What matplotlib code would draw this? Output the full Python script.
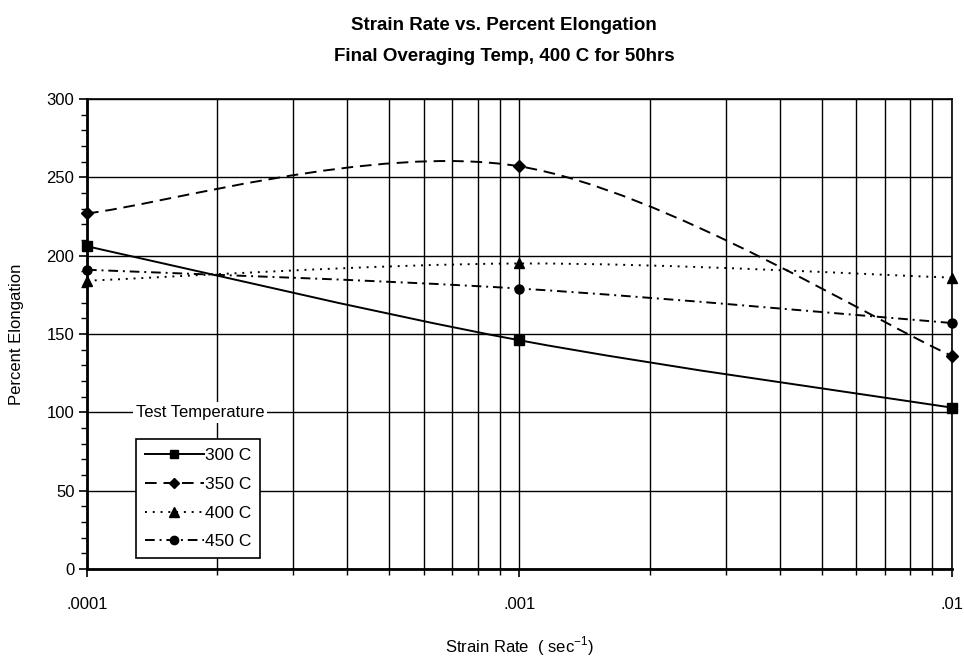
import numpy as np
import matplotlib
matplotlib.use('Agg')
import matplotlib.pyplot as plt
from matplotlib.path import Path
from matplotlib.patches import PathPatch
from matplotlib.lines import Line2D
from matplotlib.ticker import FixedLocator, FixedFormatter, LogLocator, NullFormatter, MultipleLocator

plt.rcParams['font.family'] = ['Liberation Sans', 'DejaVu Sans']

strain_rate = [0.0001, 0.001, 0.01]
xtick_labels = ['.0001', '.001', '.01']
labels = ['300 C', '350 C', '400 C', '450 C']
elong_300 = [206, 146, 103]
elong_350 = [227, 257, 136]
elong_400 = [184, 195, 186]
elong_450 = [191, 179, 157]

series = [elong_300, elong_350, elong_400, elong_450]
markers = ['s', 'D', '^', 'o']
styles = ['-', (0, (6, 3.5)), (0, (1, 3)), (0, (5, 2.5, 1, 2.5))]
msizes = [6.5, 6, 7, 6.5]


def smooth_path(x, y):
    # excel style smoothing: cubic bezier in log-x space
    lx = np.log10(x)
    p = np.column_stack([lx, y]).astype(float)
    n = len(p)
    verts = [p[0]]
    codes = [Path.MOVETO]
    for i in range(n - 1):
        prev = p[i - 1] if i > 0 else p[i]
        nxt = p[i + 2] if i + 2 < n else p[i + 1]
        c1 = p[i] + (p[i + 1] - prev) / 6
        c2 = p[i + 1] - (nxt - p[i]) / 6
        verts += [c1, c2, p[i + 1]]
        codes += [Path.CURVE4] * 3
    verts = np.array(verts)
    verts[:, 0] = 10 ** verts[:, 0]
    return Path(verts, codes)


fig = plt.figure(figsize=(9.64, 6.67), dpi=100)
ax = fig.add_axes([0.0902, 0.1469, 0.8974, 0.7047])
ax.set_xscale('log')
ax.set_xlim(1e-4, 1e-2)
ax.set_ylim(0, 300)

handles = []
for vals, m, ls, ms in zip(series, markers, styles, msizes):
    patch = PathPatch(smooth_path(strain_rate, vals), fill=False, edgecolor='black',
                      linewidth=1.4, linestyle=ls, zorder=3)
    ax.add_patch(patch)
    ax.plot(strain_rate, vals, linestyle='none', marker=m, color='black',
            markersize=ms, zorder=4, clip_on=False)
    handles.append(Line2D([], [], color='black', linestyle=ls, linewidth=1.4,
                          marker=m, markersize=ms - 0.5))

ax.xaxis.set_major_locator(FixedLocator(strain_rate))
ax.xaxis.set_major_formatter(FixedFormatter(xtick_labels))
ax.xaxis.set_minor_locator(LogLocator(base=10, subs=np.arange(2, 10)))
ax.xaxis.set_minor_formatter(NullFormatter())
ax.yaxis.set_major_locator(MultipleLocator(50))
ax.yaxis.set_minor_locator(MultipleLocator(10))

ax.grid(True, which='major', color='black', linewidth=1.0)
ax.grid(True, which='minor', axis='x', color='black', linewidth=1.0)
ax.set_axisbelow(True)
for s in ax.spines.values():
    s.set_linewidth(1.2)
ax.spines['left'].set_linewidth(2)
ax.spines['bottom'].set_linewidth(2)

ax.tick_params(axis='both', which='major', direction='out', length=6, width=1.2,
               labelsize=12)
ax.tick_params(axis='x', which='major', pad=14)
ax.tick_params(axis='both', which='minor', direction='out', length=4, width=1)
ax.tick_params(axis='y', which='major', pad=3)

ax.set_ylabel('Percent Elongation', fontsize=12, labelpad=16)
ax.set_xlabel('Strain Rate  ( sec$^{\\mathregular{-1}}$)', fontsize=12, labelpad=16)

fig.text(0.523, 0.962, 'Strain Rate vs. Percent Elongation', ha='center', va='center',
         fontsize=13.5, fontweight='bold')
fig.text(0.523, 0.916, 'Final Overaging Temp, 400 C for 50hrs', ha='center', va='center',
         fontsize=13.5, fontweight='bold')

ax.text(0.131, 0.333, 'Test Temperature', transform=ax.transAxes, ha='center',
        va='center', fontsize=12, zorder=5,
        bbox=dict(facecolor='white', edgecolor='none', pad=2))
leg = ax.legend(handles, labels, loc='lower left', bbox_to_anchor=(0.0566, 0.0235),
                borderaxespad=0, fancybox=False, framealpha=1, edgecolor='black',
                fontsize=12.5, handlelength=3.4, handletextpad=0.1, labelspacing=0.78,
                borderpad=0.5)
leg.get_frame().set_linewidth(1.2)
leg.set_zorder(6)

fig.savefig('out.png', dpi=100)
